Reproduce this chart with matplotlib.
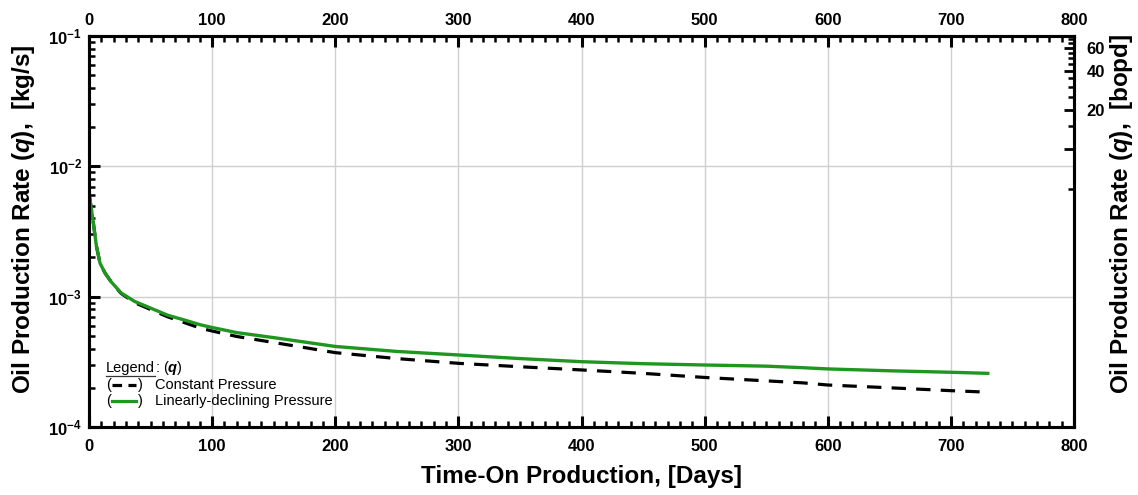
import matplotlib
matplotlib.use("Agg")
import matplotlib.pyplot as plt
from matplotlib.ticker import FixedLocator, FixedFormatter, MultipleLocator, LogLocator, NullFormatter
from matplotlib.lines import Line2D

plt.rcParams['font.family'] = ['Liberation Sans', 'DejaVu Sans']
plt.rcParams['mathtext.fontset'] = 'custom'
plt.rcParams['mathtext.rm'] = 'Liberation Sans:bold'
plt.rcParams['mathtext.bf'] = 'Liberation Sans:bold'
plt.rcParams['mathtext.it'] = 'Liberation Sans:bold:italic'

# ---- data ----
days = [0.5, 3.5, 6, 9, 13, 18, 26, 37, 51, 64, 78, 90, 100, 120, 150, 200, 250,
        300, 350, 400, 450, 500, 550, 580, 600, 650, 700, 730]
q_linear = [5.8e-3, 3.7e-3, 2.45e-3, 1.8e-3, 1.52e-3, 1.30e-3, 1.07e-3, 9.2e-4, 8.1e-4,
            7.2e-4, 6.6e-4, 6.1e-4, 5.8e-4, 5.3e-4, 4.85e-4, 4.15e-4, 3.8e-4,
            3.57e-4, 3.35e-4, 3.17e-4, 3.06e-4, 2.99e-4, 2.93e-4, 2.85e-4, 2.79e-4,
            2.70e-4, 2.63e-4, 2.58e-4]
q_const = [5.8e-3, 3.7e-3, 2.45e-3, 1.8e-3, 1.52e-3, 1.30e-3, 1.06e-3, 9.0e-4, 7.9e-4,
           7.0e-4, 6.3e-4, 5.75e-4, 5.45e-4, 4.95e-4, 4.45e-4, 3.72e-4, 3.35e-4,
           3.08e-4, 2.90e-4, 2.74e-4, 2.58e-4, 2.40e-4, 2.26e-4, 2.18e-4, 2.10e-4,
           2.00e-4, 1.90e-4, 1.85e-4]
x_ticks = [0, 100, 200, 300, 400, 500, 600, 700, 800]
y_ticks = [1e-4, 1e-3, 1e-2, 1e-1]
y_ticklabels = [r'$10^{-4}$', r'$10^{-3}$', r'$10^{-2}$', r'$10^{-1}$']
kgs_to_bopd = 740.0
bopd_ticks = [5, 10, 15, 20, 25, 30, 35, 40, 45, 50, 55, 60, 65, 70]
bopd_major = [10, 20, 40, 60]
bopd_major_labels = ['', '20', '40', '60']

fig = plt.figure(figsize=(11.38, 4.95), dpi=100)
ax = fig.add_axes([89/1138, 1-427/495, (1074-89)/1138, (427-36)/495])

green = '#1f961f'
ax.plot(days, q_const, color='black', lw=2.3, ls=(0, (4.5, 3.2)), zorder=3)
ax.plot(days, q_linear, color=green, lw=2.4, zorder=4)

ax.set_xlim(0, 800)
ax.set_yscale('log')
ax.set_ylim(1e-4, 1e-1)

ax.xaxis.set_major_locator(FixedLocator(x_ticks))
ax.xaxis.set_minor_locator(MultipleLocator(10))
ax.yaxis.set_major_locator(FixedLocator(y_ticks))
ax.yaxis.set_major_formatter(FixedFormatter(y_ticklabels))
ax.yaxis.set_minor_locator(LogLocator(base=10, subs=range(2, 10)))
ax.yaxis.set_minor_formatter(NullFormatter())

ax.grid(True, which='major', color='#cfcfcf', lw=1.0, zorder=0)

ax.tick_params(which='major', direction='in', length=8, width=2.2,
               top=True, labeltop=False, right=False, labelsize=12)
ax.tick_params(axis='x', which='major', pad=8.5)
ax.tick_params(axis='y', which='major', pad=5)
ax.tick_params(which='minor', direction='in', length=4.5, width=1.8, top=True, right=False)
for t in ax.xaxis.get_major_ticks():
    t.label1.set_fontweight('bold')
for sp in ax.spines.values():
    sp.set_linewidth(2.2)

# top labels
secx = ax.secondary_xaxis('top')
secx.xaxis.set_major_locator(FixedLocator(x_ticks))
secx.tick_params(length=0, labelsize=12, pad=6)
secx.spines['top'].set_visible(False)
for lbl in secx.get_xticklabels():
    lbl.set_fontweight('bold')

ax.set_xlabel('Time-On Production, [Days]', fontsize=17.5, fontweight='bold', labelpad=8)
ax.set_ylabel(r'Oil Production Rate ($q$),  [kg/s]', fontsize=17.5, fontweight='bold')
ax.yaxis.set_label_coords(-0.053, 0.532)

# right axis in bopd
ax2 = ax.twinx()
ax2.set_yscale('log')
ax2.set_ylim(1e-4 * kgs_to_bopd, 1e-1 * kgs_to_bopd)
ax2.yaxis.set_major_locator(FixedLocator(bopd_major))
ax2.yaxis.set_major_formatter(FixedFormatter(bopd_major_labels))
ax2.yaxis.set_minor_locator(FixedLocator([v for v in bopd_ticks if v not in bopd_major]))
ax2.yaxis.set_minor_formatter(NullFormatter())
ax2.tick_params(which='major', direction='in', length=7, width=2.0, labelsize=12, pad=9)
ax2.tick_params(which='minor', direction='in', length=4.5, width=1.8)
for t in ax2.yaxis.get_major_ticks():
    t.label2.set_fontweight('bold')
for sp in ax2.spines.values():
    sp.set_linewidth(2.2)
ax2.set_ylabel(r'Oil Production Rate ($q$),  [bopd]', fontsize=17.5, fontweight='bold')
ax2.yaxis.set_label_coords(1.0345, 0.546)

# custom legend
def fx(px):
    return (px - 89) / 985.0
def fy(py):
    return (427 - py) / 391.0

lfs = 10.5
renderer = fig.canvas.get_renderer()
t_leg = ax.text(fx(106), fy(368), 'Legend', transform=ax.transAxes, fontsize=lfs,
                va='center', ha='left')
bb = t_leg.get_window_extent(renderer=renderer)
x_end_px = bb.x1
ax.plot([fx(106), fx(x_end_px)], [fy(375.5), fy(375.5)], transform=ax.transAxes,
        color='#333333', lw=0.9)
ax.text(fx(x_end_px), fy(368), r': ($\mathit{q}$)', transform=ax.transAxes, fontsize=lfs,
        va='center', ha='left')
for py, style, col in [(385, (0, (3.0, 2.0)), 'black'), (401, '-', green)]:
    ax.text(fx(106), fy(py), '(', transform=ax.transAxes, fontsize=lfs, va='center', ha='left')
    ax.add_line(Line2D([fx(112), fx(136)], [fy(py), fy(py)], transform=ax.transAxes,
                       color=col, lw=2.3, ls=style))
    ax.text(fx(137.5), fy(py), ')', transform=ax.transAxes, fontsize=lfs, va='center', ha='left')
ax.text(fx(155), fy(385), 'Constant Pressure', transform=ax.transAxes, fontsize=lfs,
        va='center', ha='left')
ax.text(fx(155), fy(401), 'Linearly-declining Pressure', transform=ax.transAxes, fontsize=lfs,
        va='center', ha='left')

fig.savefig('out.png', dpi=100)
